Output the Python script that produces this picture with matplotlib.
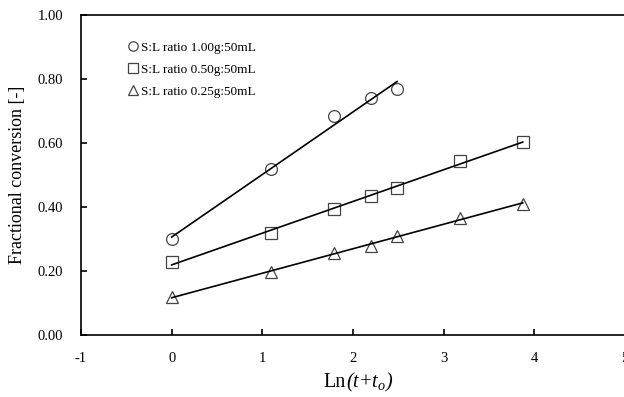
import numpy as np
import matplotlib.pyplot as plt
from matplotlib.ticker import FormatStrFormatter
from matplotlib.offsetbox import TextArea, HPacker, AnchoredOffsetbox

plt.rcParams['font.family'] = ['Liberation Serif', 'DejaVu Serif']
plt.rcParams['mathtext.fontset'] = 'custom'
plt.rcParams['mathtext.rm'] = 'Liberation Serif'
plt.rcParams['mathtext.it'] = 'Liberation Serif:italic'
plt.rcParams['axes.unicode_minus'] = False

# Ln(t+to) values
x_a = [0.0, 1.0986, 1.7918, 2.1972, 2.4849]
x_b = [0.0, 1.0986, 1.7918, 2.1972, 2.4849, 3.1781, 3.8712]

# fractional conversion for each S:L ratio
y_100 = [0.30, 0.52, 0.685, 0.74, 0.77]
y_050 = [0.23, 0.32, 0.395, 0.435, 0.46, 0.545, 0.605]
y_025 = [0.12, 0.197, 0.257, 0.28, 0.312, 0.367, 0.41]

labels = ['S:L ratio 1.00g:50mL', 'S:L ratio 0.50g:50mL', 'S:L ratio 0.25g:50mL']

fig = plt.figure(figsize=(6.24, 3.97), dpi=100)
ax = fig.add_axes([0.1298, 0.155, 0.872, 0.807])

series = [(x_a, y_100, 'o', 8.5), (x_b, y_050, 's', 9), (x_b, y_025, '^', 9)]
for (xs, ys, m, ms), lab in zip(series, labels):
    xs = np.array(xs)
    ys = np.array(ys)
    # linear fit of each series
    k, b = np.polyfit(xs, ys, 1)
    ax.plot(xs, k * xs + b, color='black', lw=1.2, zorder=3)
    ax.plot(xs, ys, m, ms=ms, mfc='white', mec='#444444', mew=0.9,
            label=lab, zorder=2)

ax.set_xlim(-1, 5)
ax.set_ylim(0, 1.0)
ax.set_xticks(range(-1, 6))
ax.set_yticks(np.arange(0, 1.01, 0.2))
ax.yaxis.set_major_formatter(FormatStrFormatter('%.2f'))
ax.tick_params(direction='in', length=4, width=1.2, labelsize=10.5)
ax.tick_params(axis='y', pad=13)
ax.tick_params(axis='x', pad=12)
for s in ax.spines.values():
    s.set_linewidth(1.2)

ax.set_ylabel('Fractional conversion [-]', fontsize=13, labelpad=8)

# x label: "Ln" upright, "(t+t_o)" italic
parts = [TextArea('Ln', textprops=dict(size=14.5)),
         TextArea('(t+t$_o$)', textprops=dict(size=14.5, style='italic'))]
box = HPacker(children=parts, align='baseline', pad=0, sep=0)
xl = AnchoredOffsetbox(loc='lower center', child=box, frameon=False,
                       bbox_to_anchor=(0.574, 0.008), bbox_transform=fig.transFigure,
                       borderpad=0, pad=0)
fig.add_artist(xl)

ax.legend(loc='upper left', bbox_to_anchor=(0.067, 0.955), frameon=False,
          handlelength=0.6, handletextpad=0.3, labelspacing=0.75,
          fontsize=9.5, markerscale=0.8)

fig.savefig('out.png', dpi=100)
